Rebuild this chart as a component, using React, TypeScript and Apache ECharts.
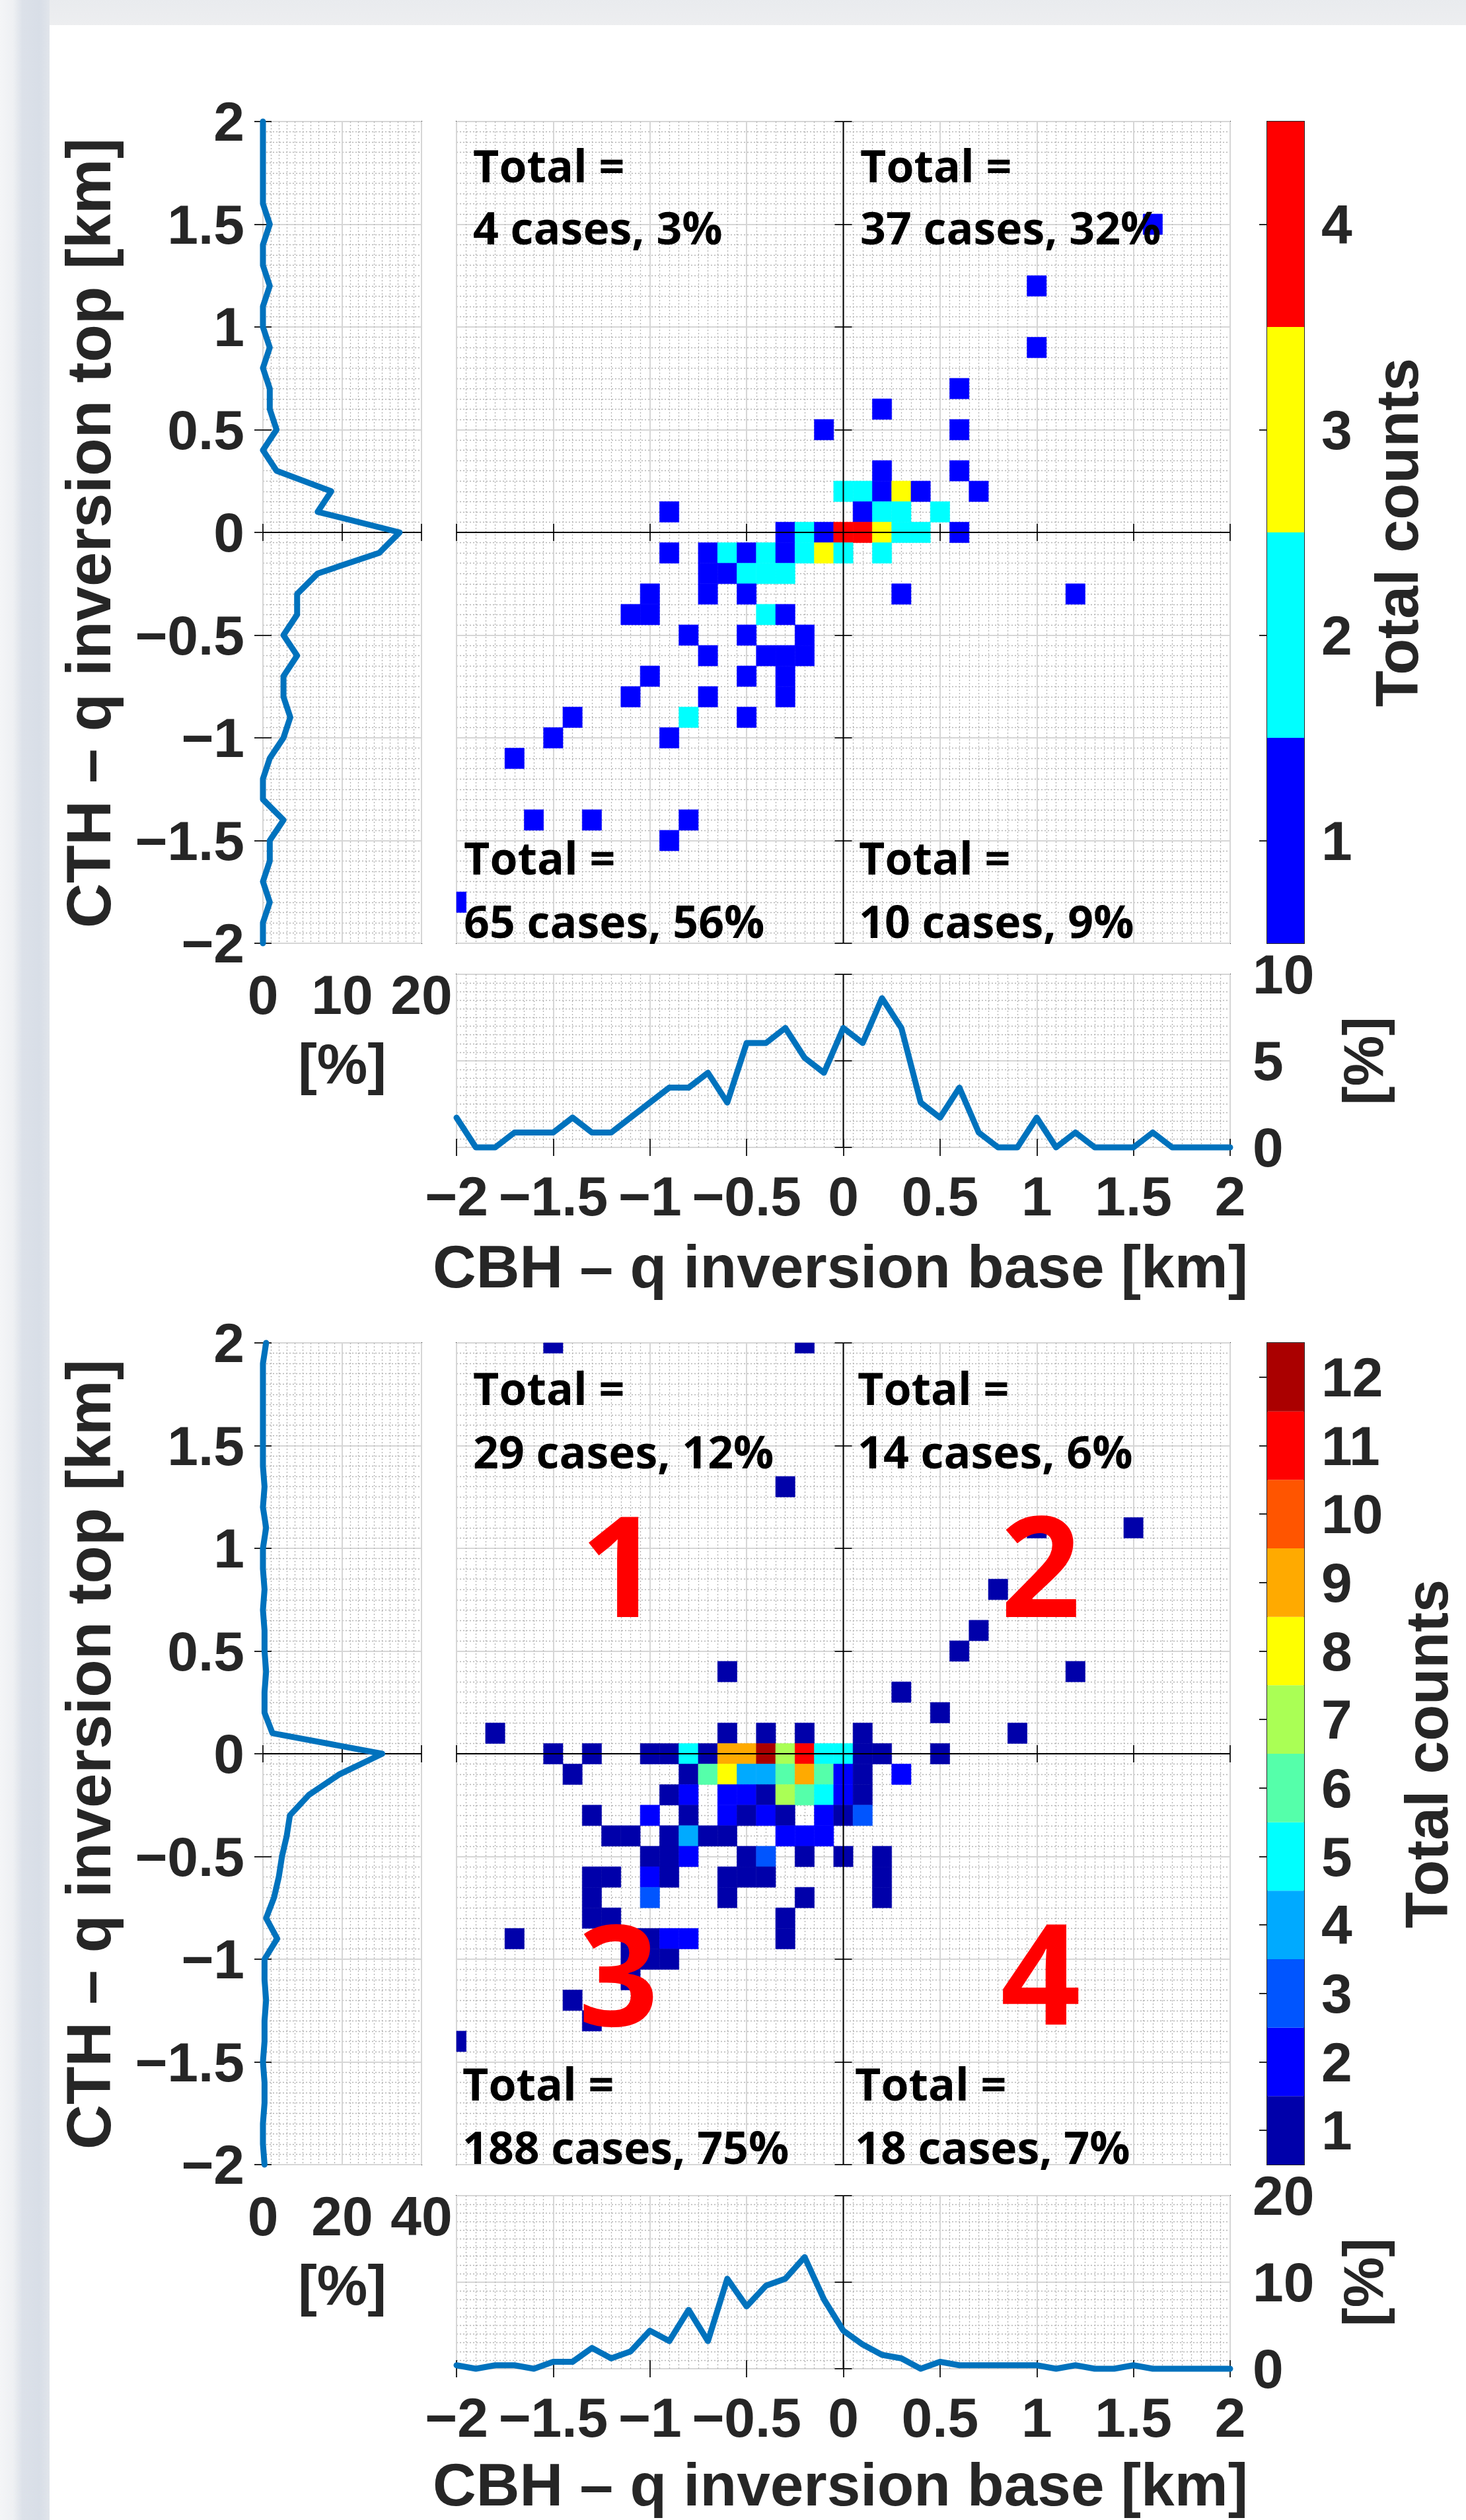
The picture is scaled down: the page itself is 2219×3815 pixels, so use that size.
import React, { useEffect, useRef } from 'react';
import * as echarts from 'echarts';

const PAGE_W = 2219;
const PAGE_H = 3815;

// bin centres (km) shared by both marginal profiles
const BIN_CENTERS = [
  -2, -1.9, -1.8, -1.7, -1.6, -1.5, -1.4, -1.3, -1.2, -1.1, -1, -0.9, -0.8, -0.7, -0.6, -0.5, -0.4, -0.3, -0.2, -0.1,
  0, 0.1, 0.2, 0.3, 0.4, 0.5, 0.6, 0.7, 0.8, 0.9, 1, 1.1, 1.2, 1.3, 1.4, 1.5, 1.6, 1.7, 1.8, 1.9, 2,
];
const BIN_HALF = 0.05;

// ---------- Panel 1 (upper) ----------
// [CBH - q base (km), CTH - q top (km), counts]
const TOP_CELLS: [number, number, number][] = [
  [1.6, 1.5, 1], [1.0, 1.2, 1], [1.0, 0.9, 1], [0.6, 0.7, 1], [0.2, 0.6, 1], [-0.1, 0.5, 1], [0.6, 0.5, 1],
  [0.2, 0.3, 1], [0.6, 0.3, 1],
  [0, 0.2, 2], [0.1, 0.2, 2], [0.2, 0.2, 1], [0.3, 0.2, 3], [0.4, 0.2, 1], [0.7, 0.2, 1],
  [-0.9, 0.1, 1], [0.1, 0.1, 1], [0.2, 0.1, 2], [0.3, 0.1, 2], [0.5, 0.1, 2],
  [-0.3, 0, 1], [-0.2, 0, 2], [-0.1, 0, 1], [0, 0, 4], [0.1, 0, 4], [0.2, 0, 3], [0.3, 0, 2], [0.4, 0, 2], [0.6, 0, 1],
  [-0.9, -0.1, 1], [-0.7, -0.1, 1], [-0.6, -0.1, 2], [-0.5, -0.1, 1], [-0.4, -0.1, 2], [-0.3, -0.1, 1],
  [-0.2, -0.1, 2], [-0.1, -0.1, 3], [0, -0.1, 2], [0.2, -0.1, 2],
  [-0.7, -0.2, 1], [-0.6, -0.2, 1], [-0.5, -0.2, 2], [-0.4, -0.2, 2], [-0.3, -0.2, 2],
  [-1.0, -0.3, 1], [-0.7, -0.3, 1], [-0.5, -0.3, 1], [0.3, -0.3, 1], [1.2, -0.3, 1],
  [-1.1, -0.4, 1], [-1.0, -0.4, 1], [-0.4, -0.4, 2], [-0.3, -0.4, 1],
  [-0.8, -0.5, 1], [-0.5, -0.5, 1], [-0.2, -0.5, 1],
  [-0.7, -0.6, 1], [-0.4, -0.6, 1], [-0.3, -0.6, 1], [-0.2, -0.6, 1],
  [-1.0, -0.7, 1], [-0.5, -0.7, 1], [-0.3, -0.7, 1],
  [-1.1, -0.8, 1], [-0.7, -0.8, 1], [-0.3, -0.8, 1],
  [-1.4, -0.9, 1], [-0.8, -0.9, 2], [-0.5, -0.9, 1],
  [-1.5, -1.0, 1], [-0.9, -1.0, 1],
  [-1.7, -1.1, 1],
  [-1.6, -1.4, 1], [-1.3, -1.4, 1], [-0.8, -1.4, 1],
  [-0.9, -1.5, 1],
  [-2.0, -1.8, 1],
];
// bottom profile: % of cases per CBH bin (BIN_CENTERS order)
const TOP_CBH_PCT = [
  1.72, 0, 0, 0.86, 0.86, 0.86, 1.72, 0.86, 0.86, 1.72, 2.59, 3.45, 3.45, 4.31, 2.59, 6.03, 6.03, 6.9, 5.17, 4.31,
  6.9, 6.03, 8.62, 6.9, 2.59, 1.72, 3.45, 0.86, 0, 0, 1.72, 0, 0.86, 0, 0, 0, 0.86, 0, 0, 0, 0,
];
// left profile: % of cases per CTH bin (BIN_CENTERS order)
const TOP_CTH_PCT = [
  0, 0, 0.86, 0, 0.86, 0.86, 2.59, 0, 0, 0.86, 2.59, 3.45, 2.59, 2.59, 4.31, 2.59, 4.31, 4.31, 6.9, 14.66,
  17.24, 6.9, 8.62, 1.72, 0, 1.72, 0.86, 0.86, 0, 0.86, 0, 0, 0.86, 0, 0, 0.86, 0, 0, 0, 0, 0,
];
const TOP_LEVELS = ['1', '2', '3', '4'];
const TOP_COLORS = ['#0000FF', '#00FFFF', '#FFFF00', '#FF0000'];
const TOP_TOTALS = ['4 cases, 3%', '37 cases, 32%', '65 cases, 56%', '10 cases, 9%'];

// ---------- Panel 2 (lower) ----------
const BOTTOM_CELLS: [number, number, number][] = [
  [-1.5, 2.0, 1], [-0.2, 2.0, 1], [-0.3, 1.3, 1], [1.5, 1.1, 1], [1.0, 1.1, 1], [0.8, 0.8, 1], [0.7, 0.6, 1],
  [0.6, 0.5, 1], [1.2, 0.4, 1], [-0.6, 0.4, 1], [0.3, 0.3, 1], [0.5, 0.2, 1],
  [-1.8, 0.1, 1], [-0.6, 0.1, 1], [-0.4, 0.1, 1], [-0.2, 0.1, 1], [0.1, 0.1, 1], [0.9, 0.1, 1],
  [-1.5, 0, 1], [-1.3, 0, 1], [-1.0, 0, 1], [-0.9, 0, 1], [-0.8, 0, 5], [-0.7, 0, 1], [-0.6, 0, 9], [-0.5, 0, 9],
  [-0.4, 0, 12], [-0.3, 0, 7], [-0.2, 0, 11], [-0.1, 0, 5], [0, 0, 5], [0.1, 0, 1], [0.2, 0, 1], [0.5, 0, 1],
  [-1.4, -0.1, 1], [-0.8, -0.1, 1], [-0.7, -0.1, 6], [-0.6, -0.1, 8], [-0.5, -0.1, 4], [-0.4, -0.1, 4],
  [-0.3, -0.1, 6], [-0.2, -0.1, 9], [-0.1, -0.1, 6], [0, -0.1, 2], [0.1, -0.1, 1], [0.3, -0.1, 2],
  [-0.9, -0.2, 1], [-0.8, -0.2, 2], [-0.6, -0.2, 2], [-0.5, -0.2, 2], [-0.4, -0.2, 1], [-0.3, -0.2, 7],
  [-0.2, -0.2, 6], [-0.1, -0.2, 5], [0, -0.2, 2], [0.1, -0.2, 1],
  [-1.3, -0.3, 1], [-1.0, -0.3, 2], [-0.8, -0.3, 1], [-0.6, -0.3, 2], [-0.5, -0.3, 1], [-0.4, -0.3, 2],
  [-0.3, -0.3, 1], [-0.1, -0.3, 2], [0, -0.3, 1], [0.1, -0.3, 3],
  [-1.2, -0.4, 1], [-1.1, -0.4, 1], [-0.9, -0.4, 1], [-0.8, -0.4, 4], [-0.7, -0.4, 1], [-0.6, -0.4, 1],
  [-0.3, -0.4, 2], [-0.2, -0.4, 2], [-0.1, -0.4, 2],
  [-1.0, -0.5, 1], [-0.9, -0.5, 1], [-0.8, -0.5, 2], [-0.5, -0.5, 1], [-0.4, -0.5, 3], [-0.2, -0.5, 1],
  [0, -0.5, 1], [0.2, -0.5, 1],
  [-1.3, -0.6, 1], [-1.2, -0.6, 1], [-1.0, -0.6, 2], [-0.9, -0.6, 1], [-0.6, -0.6, 1], [-0.5, -0.6, 1],
  [-0.4, -0.6, 1], [0.2, -0.6, 1],
  [-1.3, -0.7, 1], [-1.0, -0.7, 3], [-0.6, -0.7, 1], [-0.2, -0.7, 1], [0.2, -0.7, 1],
  [-1.3, -0.8, 1], [-1.2, -0.8, 1], [-0.3, -0.8, 1],
  [-1.7, -0.9, 1], [-1.1, -0.9, 1], [-1.0, -0.9, 1], [-0.9, -0.9, 2], [-0.8, -0.9, 2], [-0.3, -0.9, 1],
  [-1.1, -1.0, 1], [-1.0, -1.0, 1], [-0.9, -1.0, 1],
  [-1.1, -1.1, 1],
  [-1.4, -1.2, 1],
  [-1.3, -1.3, 1],
  [-2.0, -1.4, 1],
];
const BOTTOM_CBH_PCT = [
  0.4, 0, 0.4, 0.4, 0, 0.8, 0.8, 2.4, 1.2, 2.0, 4.4, 3.2, 6.8, 3.2, 10.4, 7.2, 9.6, 10.4, 12.9, 8.0,
  4.4, 2.8, 1.6, 1.2, 0, 0.8, 0.4, 0.4, 0.4, 0.4, 0.4, 0, 0.4, 0, 0, 0.4, 0, 0, 0, 0, 0,
];
const BOTTOM_CTH_PCT = [
  0.4, 0, 0, 0.4, 0.4, 0, 0.4, 0.4, 0.8, 0.4, 0.4, 3.6, 0.8, 2.8, 4.0, 4.8, 6.0, 6.8, 11.6, 19.3,
  30.1, 2.4, 0.4, 0.4, 0.8, 0.4, 0.4, 0, 0.4, 0, 0, 0.8, 0, 0.4, 0, 0, 0, 0, 0, 0, 0.8,
];
const BOTTOM_LEVELS = ['1', '2', '3', '4', '5', '6', '7', '8', '9', '10', '11', '12'];
const BOTTOM_COLORS = [
  '#0000AA', '#0000FF', '#0055FF', '#00AAFF', '#00FFFF', '#55FFAA',
  '#AAFF55', '#FFFF00', '#FFAA00', '#FF5500', '#FF0000', '#AA0000',
];
const BOTTOM_TOTALS = ['29 cases, 12%', '14 cases, 6%', '188 cases, 75%', '18 cases, 7%'];
const QUADRANT_NUMBERS = ['1', '2', '3', '4'];

const TOTAL_HEAD = 'Total =';
const Y_TITLE = 'CTH \u2013 q inversion top [km]';
const X_TITLE = 'CBH \u2013 q inversion base [km]';
const PCT_TITLE = '[%]';
const CB_TITLE = 'Total counts';

// ---------- styling ----------
const INK = '#262626';
const LINE_BLUE = '#0072BD';
const AX_FONT = '"Liberation Sans", Arial, sans-serif';
const NOTE_FONT = '"Open Sans", "Noto Sans", sans-serif';

const fmt = (v: number) => (v < 0 ? '\u2212' + String(Math.abs(v)) : String(v));

const labelStyle = { fontFamily: AX_FONT, fontWeight: 'bold', fontSize: 84, color: INK };
const tickStyle = { show: true, inside: true, length: 13, lineStyle: { color: INK, width: 2 } };
const majorGrid = { show: true, lineStyle: { color: '#D6D6D6', width: 2 } };
const minorGrid = { show: true, lineStyle: { color: '#B4B4B4', width: 1.3, type: [2, 3] } };
const PROFILE_STYLE = { color: LINE_BLUE, width: 9, cap: 'round', join: 'round' };

function gridBox(left: number, top: number, width: number, height: number) {
  return { left, top, width, height, show: true, borderColor: INK, borderWidth: 2, backgroundColor: '#FFFFFF', containLabel: false };
}

function valAxis(o: {
  gridIndex: number; min: number; max: number; interval: number; position: string;
  label?: boolean; margin?: number; grid?: boolean;
}) {
  return {
    type: 'value',
    gridIndex: o.gridIndex,
    min: o.min,
    max: o.max,
    interval: o.interval,
    position: o.position,
    axisLine: { show: false },
    axisTick: tickStyle,
    axisLabel: o.label ? { show: true, margin: o.margin, formatter: fmt, ...labelStyle } : { show: false },
    splitLine: o.grid ? majorGrid : { show: false },
    minorTick: { show: false, splitNumber: 10 },
    minorSplitLine: o.grid ? minorGrid : { show: false },
  };
}

function text(x: number, y: number, t: string, font: string, size: number, opts: any = {}) {
  return {
    type: 'text',
    x,
    y,
    z: 100,
    rotation: opts.rotation || 0,
    silent: true,
    style: {
      text: t,
      font,
      lineHeight: size,
      fill: opts.fill || INK,
      align: opts.align || 'center',
      textAlign: opts.align || 'center',
      verticalAlign: 'middle',
      textVerticalAlign: 'middle',
    },
  };
}

const PANELS = [
  {
    yOff: 0,
    cells: TOP_CELLS,
    colors: TOP_COLORS,
    levels: TOP_LEVELS,
    cbhPct: TOP_CBH_PCT,
    cthPct: TOP_CTH_PCT,
    leftMax: 20,
    leftInt: 10,
    botMax: 10,
    botInt: 5,
    totals: TOP_TOTALS,
    totalsPos: [[716, 249, 343], [1302, 249, 343], [702, 1297, 1393], [1300, 1297, 1393]],
    cbTitleX: 2115,
    xTitleY: 1917,
    numbers: false,
  },
  {
    yOff: 1849,
    cells: BOTTOM_CELLS,
    colors: BOTTOM_COLORS,
    levels: BOTTOM_LEVELS,
    cbhPct: BOTTOM_CBH_PCT,
    cthPct: BOTTOM_CTH_PCT,
    leftMax: 40,
    leftInt: 20,
    botMax: 20,
    botInt: 10,
    totals: BOTTOM_TOTALS,
    totalsPos: [[716, 251, 347], [1298, 251, 347], [700, 1304, 1400], [1294, 1304, 1400]],
    cbTitleX: 2160,
    xTitleY: 1912,
    numbers: true,
  },
];

function buildOption() {
  const grid: any[] = [];
  const xAxis: any[] = [];
  const yAxis: any[] = [];
  const series: any[] = [];
  const graphic: any[] = [];

  PANELS.forEach((p) => {
    const off = p.yOff;
    const gLM = grid.push(gridBox(398, 184 + off, 240, 1244)) - 1;
    const gHM = grid.push(gridBox(691, 184 + off, 1171, 1244)) - 1;
    const gBM = grid.push(gridBox(691, 1475 + off, 1171, 262)) - 1;
    const gCB = grid.push(gridBox(1918, 184 + off, 56, 1244)) - 1;

    // left profile axes
    const xLM = xAxis.push(valAxis({ gridIndex: gLM, min: 0, max: p.leftMax, interval: p.leftInt, position: 'bottom', label: true, margin: 36, grid: true })) - 1;
    xAxis.push(valAxis({ gridIndex: gLM, min: 0, max: p.leftMax, interval: p.leftInt, position: 'top' }));
    const yLM = yAxis.push(valAxis({ gridIndex: gLM, min: -2, max: 2, interval: 0.5, position: 'left', label: true, margin: 28, grid: true })) - 1;
    yAxis.push(valAxis({ gridIndex: gLM, min: -2, max: 2, interval: 0.5, position: 'right' }));

    // heatmap axes
    const xHM = xAxis.push(valAxis({ gridIndex: gHM, min: -2, max: 2, interval: 0.5, position: 'bottom', grid: true })) - 1;
    xAxis.push(valAxis({ gridIndex: gHM, min: -2, max: 2, interval: 0.5, position: 'top' }));
    const yHM = yAxis.push(valAxis({ gridIndex: gHM, min: -2, max: 2, interval: 0.5, position: 'left', grid: true })) - 1;
    yAxis.push(valAxis({ gridIndex: gHM, min: -2, max: 2, interval: 0.5, position: 'right' }));

    // bottom profile axes
    const xBM = xAxis.push(valAxis({ gridIndex: gBM, min: -2, max: 2, interval: 0.5, position: 'bottom', label: true, margin: 32, grid: true })) - 1;
    xAxis.push(valAxis({ gridIndex: gBM, min: -2, max: 2, interval: 0.5, position: 'top' }));
    const yBM = yAxis.push(valAxis({ gridIndex: gBM, min: 0, max: p.botMax, interval: p.botInt, position: 'right', label: true, margin: 34, grid: true })) - 1;
    yAxis.push(valAxis({ gridIndex: gBM, min: 0, max: p.botMax, interval: p.botInt, position: 'left' }));

    // colorbar axes
    const xCB = xAxis.push({ type: 'value', gridIndex: gCB, min: 0, max: 1, show: false }) - 1;
    const yCB = yAxis.push({
      type: 'category',
      gridIndex: gCB,
      data: p.levels,
      position: 'right',
      axisLine: { show: false },
      axisTick: { show: true, inside: true, alignWithLabel: true, interval: 0, length: 12, lineStyle: { color: INK, width: 2 } },
      axisLabel: { show: true, interval: 0, margin: 26, ...labelStyle },
      splitLine: { show: false },
    }) - 1;

    const palette = p.colors;

    series.push({
      type: 'line',
      xAxisIndex: xLM,
      yAxisIndex: yLM,
      data: [[0, 0], [p.leftMax, 0]],
      symbol: 'none',
      lineStyle: { color: '#000000', width: 2 },
      z: 3,
      silent: true,
    });
    series.push({
      type: 'line',
      xAxisIndex: xLM,
      yAxisIndex: yLM,
      data: BIN_CENTERS.map((y, i) => [p.cthPct[i], y]),
      symbol: 'none',
      showSymbol: false,
      clip: false,
      lineStyle: PROFILE_STYLE,
      z: 5,
      silent: true,
    });

    series.push({
      type: 'custom',
      xAxisIndex: xHM,
      yAxisIndex: yHM,
      data: p.cells,
      encode: { x: 0, y: 1 },
      silent: true,
      z: 2,
      renderItem: (params: any, api: any) => {
        const x = api.value(0);
        const y = api.value(1);
        const v = api.value(2);
        const a = api.coord([x - BIN_HALF, y + BIN_HALF]);
        const b = api.coord([x + BIN_HALF, y - BIN_HALF]);
        const cs = params.coordSys;
        const shape = echarts.graphic.clipRectByRect(
          { x: a[0], y: a[1], width: b[0] - a[0], height: b[1] - a[1] },
          { x: cs.x, y: cs.y, width: cs.width, height: cs.height }
        );
        if (!shape) return null;
        const c = palette[Math.max(0, Math.min(palette.length - 1, v - 1))];
        return { type: 'rect', shape, style: { fill: c, stroke: c, lineWidth: 0.6 } };
      },
    });
    series.push({
      type: 'line',
      xAxisIndex: xHM,
      yAxisIndex: yHM,
      data: [[0, -2], [0, 2]],
      symbol: 'none',
      lineStyle: { color: '#000000', width: 2 },
      z: 4,
      silent: true,
    });
    series.push({
      type: 'line',
      xAxisIndex: xHM,
      yAxisIndex: yHM,
      data: [[-2, 0], [2, 0]],
      symbol: 'none',
      lineStyle: { color: '#000000', width: 2 },
      z: 4,
      silent: true,
    });

    series.push({
      type: 'line',
      xAxisIndex: xBM,
      yAxisIndex: yBM,
      data: [[0, 0], [0, p.botMax]],
      symbol: 'none',
      lineStyle: { color: '#000000', width: 2 },
      z: 3,
      silent: true,
    });
    series.push({
      type: 'line',
      xAxisIndex: xBM,
      yAxisIndex: yBM,
      data: BIN_CENTERS.map((x, i) => [x, p.cbhPct[i]]),
      symbol: 'none',
      showSymbol: false,
      clip: false,
      lineStyle: PROFILE_STYLE,
      z: 5,
      silent: true,
    });

    series.push({
      type: 'bar',
      xAxisIndex: xCB,
      yAxisIndex: yCB,
      data: palette.map((c) => ({ value: 1, itemStyle: { color: c } })),
      barWidth: '100%',
      barCategoryGap: '0%',
      silent: true,
      z: 2,
    });

    // titles
    graphic.push(text(134, 807 + off, Y_TITLE, `bold 94px ${AX_FONT}`, 94, { rotation: Math.PI / 2 }));
    graphic.push(text(518, 1610 + off, PCT_TITLE, `bold 86px ${AX_FONT}`, 86));
    graphic.push(text(1272, p.xTitleY + off, X_TITLE, `bold 91px ${AX_FONT}`, 91));
    graphic.push(text(2063, 1606 + off, PCT_TITLE, `bold 86px ${AX_FONT}`, 86, { rotation: Math.PI / 2 }));
    graphic.push(text(p.cbTitleX, 806 + off, CB_TITLE, `bold 90px ${AX_FONT}`, 90, { rotation: Math.PI / 2 }));

    // quadrant totals
    const noteFont = `bold 68px ${NOTE_FONT}`;
    p.totals.forEach((t, i) => {
      const [x, y1, y2] = p.totalsPos[i];
      graphic.push(text(x, y1 + off, TOTAL_HEAD, noteFont, 68, { align: 'left', fill: '#000000' }));
      graphic.push(text(x, y2 + off, t, noteFont, 68, { align: 'left', fill: '#000000' }));
    });

    if (p.numbers) {
      const bigFont = `bold 212px ${NOTE_FONT}`;
      const pos = [[939, 2365], [1575, 2365], [936, 2984], [1575, 2982]];
      QUADRANT_NUMBERS.forEach((n, i) => {
        graphic.push(text(pos[i][0], pos[i][1], n, bigFont, 212, { fill: '#FF0000' }));
      });
    }
  });

  return {
    animation: false,
    backgroundColor: 'transparent',
    grid,
    xAxis,
    yAxis,
    series,
    graphic: { elements: graphic },
  };
}

function Chart() {
  const ref = useRef<HTMLDivElement>(null);
  useEffect(() => {
    document.body.style.margin = '0';
    document.body.style.overflow = 'hidden';
    if (!ref.current) return;
    const chart = echarts.init(ref.current, undefined, { renderer: 'svg', width: PAGE_W, height: PAGE_H });
    chart.setOption(buildOption() as any);
    return () => chart.dispose();
  }, []);
  return <div ref={ref} style={{ position: 'absolute', left: 0, top: 0, width: PAGE_W, height: PAGE_H }} />;
}

export default function App() {
  return (
    <div style={{ position: 'relative', width: PAGE_W, height: PAGE_H, background: '#FFFFFF', overflow: 'hidden' }}>
      <div
        style={{
          position: 'absolute', left: 0, top: 0, width: PAGE_W, height: 38,
          background: 'linear-gradient(to bottom, #E9EBEE, #EDEEF0)',
        }}
      />
      <div
        style={{
          position: 'absolute', left: 0, top: 0, width: 75, height: PAGE_H,
          background: 'linear-gradient(to right, #F4F5F7 0px, #EEF0F3 20px, #DCE1E9 34px, #D8DEE7 60px, #E1E5EB 75px)',
        }}
      />
      <Chart />
    </div>
  );
}
